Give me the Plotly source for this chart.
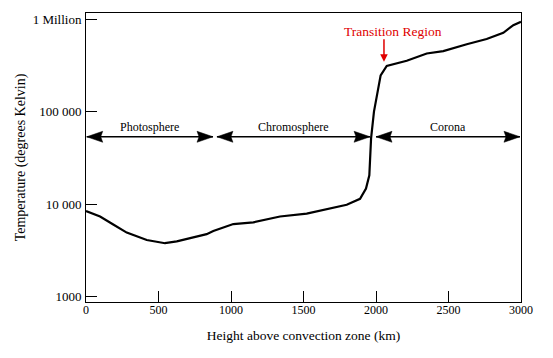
import math
import plotly.graph_objects as go

# Temperature profile of the solar atmosphere
height_km = [0, 97, 188, 281, 419, 545, 626, 740, 832, 878, 1016, 1154, 1338, 1522, 1660,
             1798, 1890, 1931, 1954, 1959, 1966, 1986, 2009, 2032, 2074, 2143, 2212, 2350,
             2464, 2626, 2763, 2878, 2947, 3000]
temperature_k = [8400, 7330, 6000, 4910, 4080, 3770, 3950, 4350, 4720, 5110, 6080, 6340, 7330,
                 7870, 8810, 9840, 11400, 14700, 20500, 31000, 51300, 100000, 154000, 247000,
                 312000, 335000, 356000, 426000, 452000, 537000, 612000, 714000, 863000, 942000]

# Atmospheric regions (start/end heights in km)
region_names = ["Photosphere", "Chromosphere", "Corona"]
region_start = [5, 903, 2000]
region_end = [876, 1959, 2993]
region_arrow_temp = 53500

# Transition region marker
transition_label = "Transition Region"
transition_height = 2055
transition_temp = 346000
transition_label_height = 2117
transition_label_temp = 733000

# Axis ticks
x_tickvals = [0, 500, 1000, 1500, 2000, 2500, 3000]
x_ticktext = ["0", "500", "1000", "1500", "2000", "2500", "3000"]
y_tickvals = [1000, 10000, 100000, 1000000]
y_ticktext = ["1000", "10 000", "100 000", "1 Million"]

FONT = "Liberation Serif, Times New Roman, serif"

fig = go.Figure()
fig.add_trace(go.Scatter(x=height_km, y=temperature_k, mode="lines",
                         line=dict(color="black", width=2.2), showlegend=False,
                         hoverinfo="skip"))

shapes = []
annotations = []
for name, x0, x1 in zip(region_names, region_start, region_end):
    shapes.append(dict(type="line", xref="x", yref="y", x0=x0, x1=x1,
                       y0=region_arrow_temp, y1=region_arrow_temp,
                       line=dict(color="black", width=1.3)))
    # left head (points left)
    shapes.append(dict(type="path", xref="x", yref="y", xsizemode="pixel", ysizemode="pixel",
                       xanchor=x0, yanchor=region_arrow_temp,
                       path="M0,0 L16,5.5 L14,0 L16,-5.5 Z",
                       fillcolor="black", line=dict(color="black", width=0.5)))
    # right head (points right)
    shapes.append(dict(type="path", xref="x", yref="y", xsizemode="pixel", ysizemode="pixel",
                       xanchor=x1, yanchor=region_arrow_temp,
                       path="M0,0 L-16,5.5 L-14,0 L-16,-5.5 Z",
                       fillcolor="black", line=dict(color="black", width=0.5)))
    annotations.append(dict(x=(x0 + x1) / 2, y=math.log10(region_arrow_temp), xref="x", yref="y",
                            text=name, showarrow=False, yshift=10,
                            font=dict(family=FONT, size=12, color="black")))

annotations.append(dict(x=transition_label_height, y=math.log10(transition_label_temp),
                        xref="x", yref="y", text=transition_label, showarrow=False,
                        font=dict(family=FONT, size=13.5, color="#e00000")))
annotations.append(dict(x=transition_height, y=math.log10(transition_temp), xref="x", yref="y",
                        text="", showarrow=True, ax=0, ay=-24, arrowhead=2, arrowsize=1,
                        arrowwidth=1.5, arrowcolor="#e00000"))

# page body has an 8px default margin; figure is sized/margined to compensate
fig.update_layout(
    width=545, height=350,
    margin=dict(l=78, r=32, t=5, b=56),
    paper_bgcolor="white", plot_bgcolor="white",
    font=dict(family=FONT, size=12, color="black"),
    shapes=shapes, annotations=annotations,
    xaxis=dict(range=[0, 3000], tickvals=x_tickvals, ticktext=x_ticktext,
               ticks="inside", ticklen=11, tickwidth=1, tickcolor="black",
               showline=True, linecolor="black", linewidth=1, mirror=True,
               showgrid=False, zeroline=False, ticklabelstandoff=-3,
               tickfont=dict(family=FONT, size=12),
               title=dict(text="Height above convection zone (km)",
                          font=dict(family=FONT, size=13.5), standoff=14)),
    yaxis=dict(type="log", range=[2.940, 6.068], tickvals=y_tickvals, ticktext=y_ticktext,
               ticks="inside", ticklen=11, tickwidth=1, tickcolor="black",
               showline=True, linecolor="black", linewidth=1, mirror=True,
               showgrid=False, zeroline=False, ticklabelstandoff=1,
               tickfont=dict(family=FONT, size=13),
               title=dict(text="Temperature (degrees Kelvin)",
                          font=dict(family=FONT, size=14), standoff=3)),
)

fig.write_html("out.html")
